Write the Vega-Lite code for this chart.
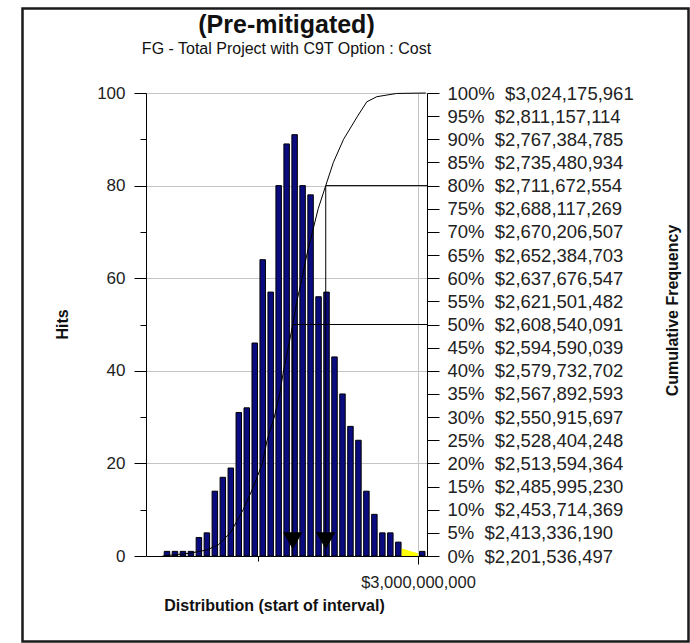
{
  "$schema": "https://vega.github.io/schema/vega-lite/v6.json",
  "width": 281,
  "height": 463,
  "autosize": "none",
  "padding": {"left": 146, "top": 93, "right": 263, "bottom": 87},
  "background": "white",
  "title": {
    "text": "(Pre-mitigated)",
    "subtitle": "FG - Total Project with C9T Option : Cost",
    "anchor": "middle",
    "frame": "group",
    "font": "Liberation Sans",
    "fontSize": 25,
    "fontWeight": "bold",
    "color": "#111111",
    "subtitleFont": "Liberation Sans",
    "subtitleFontSize": 16,
    "subtitleColor": "#111111",
    "subtitlePadding": 3,
    "offset": -49.5
  },
  "config": {
    "view": {"stroke": null},
    "font": "Liberation Sans",
    "axis": {
      "domainColor": "#000000",
      "domainWidth": 1,
      "tickColor": "#000000",
      "tickWidth": 1,
      "labelColor": "#222222",
      "titleColor": "#111111",
      "gridColor": "#c4c4c4",
      "gridWidth": 1,
      "labelFont": "Liberation Sans",
      "titleFont": "Liberation Sans"
    }
  },
  "datasets": {
    "bins": [
      {"start": 2201536497, "end": 2226464966, "hits": 1},
      {"start": 2226464966, "end": 2251393434, "hits": 1},
      {"start": 2251393434, "end": 2276321903, "hits": 1},
      {"start": 2276321903, "end": 2301250371, "hits": 1},
      {"start": 2301250371, "end": 2326178840, "hits": 4},
      {"start": 2326178840, "end": 2351107308, "hits": 5},
      {"start": 2351107308, "end": 2376035777, "hits": 14},
      {"start": 2376035777, "end": 2400964246, "hits": 17},
      {"start": 2400964246, "end": 2425892714, "hits": 19},
      {"start": 2425892714, "end": 2450821183, "hits": 31},
      {"start": 2450821183, "end": 2475749651, "hits": 32},
      {"start": 2475749651, "end": 2500678120, "hits": 46},
      {"start": 2500678120, "end": 2525606588, "hits": 64},
      {"start": 2525606588, "end": 2550535057, "hits": 57},
      {"start": 2550535057, "end": 2575463525, "hits": 80},
      {"start": 2575463525, "end": 2600391994, "hits": 89},
      {"start": 2600391994, "end": 2625320462, "hits": 91},
      {"start": 2625320462, "end": 2650248931, "hits": 80},
      {"start": 2650248931, "end": 2675177400, "hits": 78},
      {"start": 2675177400, "end": 2700105868, "hits": 56},
      {"start": 2700105868, "end": 2725034337, "hits": 57},
      {"start": 2725034337, "end": 2749962805, "hits": 43},
      {"start": 2749962805, "end": 2774891274, "hits": 35},
      {"start": 2774891274, "end": 2799819742, "hits": 28},
      {"start": 2799819742, "end": 2824748211, "hits": 25},
      {"start": 2824748211, "end": 2849676679, "hits": 14},
      {"start": 2849676679, "end": 2874605148, "hits": 9},
      {"start": 2874605148, "end": 2899533617, "hits": 5},
      {"start": 2899533617, "end": 2924462085, "hits": 5},
      {"start": 2924462085, "end": 2949390554, "hits": 3},
      {"start": 2999247491, "end": 3024175961, "hits": 1}
    ],
    "tail": [
      {"value": 2949390554, "hits": 1.6},
      {"value": 2999247491, "hits": 0.6}
    ],
    "cum": [
      {"value": 2201536497, "pct": 0},
      {"value": 2287000000, "pct": 0.6},
      {"value": 2340000000, "pct": 1.3},
      {"value": 2376000000, "pct": 2.4},
      {"value": 2413336190, "pct": 5},
      {"value": 2453714369, "pct": 10},
      {"value": 2485995230, "pct": 15},
      {"value": 2513594364, "pct": 20},
      {"value": 2528404248, "pct": 25},
      {"value": 2550915697, "pct": 30},
      {"value": 2567892593, "pct": 35},
      {"value": 2579732702, "pct": 40},
      {"value": 2594590039, "pct": 45},
      {"value": 2608540091, "pct": 50},
      {"value": 2621501482, "pct": 55},
      {"value": 2637676547, "pct": 60},
      {"value": 2652384703, "pct": 65},
      {"value": 2670206507, "pct": 70},
      {"value": 2688117269, "pct": 75},
      {"value": 2711672554, "pct": 80},
      {"value": 2735480934, "pct": 85},
      {"value": 2767384785, "pct": 90},
      {"value": 2811157114, "pct": 95},
      {"value": 2840000000, "pct": 98.1},
      {"value": 2871000000, "pct": 99.2},
      {"value": 2933000000, "pct": 99.9},
      {"value": 3024175961, "pct": 100}
    ],
    "marked": [
      {"value": 2608540091, "pct": 50},
      {"value": 2711672554, "pct": 80}
    ]
  },
  "layer": [
    {
      "data": {"name": "bins"},
      "mark": {"type": "bar", "color": "#0b0b80", "stroke": "#000000", "strokeWidth": 1, "binSpacing": 2.5},
      "encoding": {
        "x": {
          "field": "start",
          "type": "quantitative",
          "bin": "binned",
          "scale": {"domain": [2150000000, 3028125000], "nice": false, "zero": false},
          "axis": {
            "values": [2500000000, 3000000000],
            "labelExpr": "datum.value == 3000000000 ? '$3,000,000,000' : ''",
            "tickSize": {"condition": {"test": "datum.value == 3000000000", "value": 8}, "value": 5},
            "grid": true,
            "gridOpacity": {"condition": {"test": "datum.value == 3000000000", "value": 1}, "value": 0},
            "labelFontSize": 16.5,
            "labelPadding": 10,
            "labelFlush": false,
            "labelOverlap": false,
            "title": "Distribution (start of interval)",
            "titleFontSize": 16,
            "titleFontWeight": "bold",
            "titleX": 128,
            "titleY": 49,
            "titleAlign": "center",
            "titleBaseline": "middle",
            "titleAngle": 0
          }
        },
        "x2": {"field": "end"},
        "y": {
          "field": "hits",
          "type": "quantitative",
          "scale": {"domain": [0, 100], "nice": false},
          "axis": {
            "orient": "left",
            "values": [0, 10, 20, 30, 40, 50, 60, 70, 80, 90, 100],
            "labelExpr": "datum.value % 20 == 0 ? datum.label : ''",
            "tickSize": {"condition": {"test": "datum.value % 20 == 0", "value": 12}, "value": 6},
            "grid": true,
            "gridOpacity": {"condition": {"test": "datum.value % 20 == 0 && datum.value > 0", "value": 1}, "value": 0},
            "labelFontSize": 17,
            "labelPadding": 9,
            "title": "Hits",
            "titleFontSize": 16,
            "titleFontWeight": "bold",
            "titleAngle": 270,
            "titleX": -84,
            "titleY": 231,
            "titleAlign": "center",
            "titleBaseline": "middle"
          }
        }
      }
    },
    {
      "data": {"name": "tail"},
      "mark": {"type": "area", "color": "#ffff00", "interpolate": "linear"},
      "encoding": {
        "x": {"field": "value", "type": "quantitative"},
        "y": {"field": "hits", "type": "quantitative", "scale": {"domain": [0, 100], "nice": false}, "axis": null}
      }
    },
    {
      "data": {"name": "marked"},
      "mark": {"type": "rule", "color": "#000000", "strokeWidth": 1},
      "encoding": {
        "x": {"field": "value", "type": "quantitative"},
        "x2": {"datum": 3028125000},
        "y": {"field": "pct", "type": "quantitative", "scale": {"domain": [0, 100], "nice": false}, "axis": null}
      }
    },
    {
      "data": {"name": "marked"},
      "mark": {"type": "rule", "color": "#000000", "strokeWidth": 1},
      "encoding": {
        "x": {"field": "value", "type": "quantitative"},
        "y": {"field": "pct", "type": "quantitative", "scale": {"domain": [0, 100], "nice": false}, "axis": null},
        "y2": {"datum": 0}
      }
    },
    {
      "data": {"name": "cum"},
      "mark": {"type": "line", "color": "#000000", "strokeWidth": 1, "interpolate": "linear"},
      "encoding": {
        "x": {"field": "value", "type": "quantitative"},
        "y": {
          "field": "pct",
          "type": "quantitative",
          "scale": {"domain": [0, 100], "nice": false},
          "axis": {
            "orient": "right",
            "values": [0, 5, 10, 15, 20, 25, 30, 35, 40, 45, 50, 55, 60, 65, 70, 75, 80, 85, 90, 95, 100],
            "labelExpr": "['0%\u00a0 $2,201,536,497','5%\u00a0 $2,413,336,190','10%\u00a0 $2,453,714,369','15%\u00a0 $2,485,995,230','20%\u00a0 $2,513,594,364','25%\u00a0 $2,528,404,248','30%\u00a0 $2,550,915,697','35%\u00a0 $2,567,892,593','40%\u00a0 $2,579,732,702','45%\u00a0 $2,594,590,039','50%\u00a0 $2,608,540,091','55%\u00a0 $2,621,501,482','60%\u00a0 $2,637,676,547','65%\u00a0 $2,652,384,703','70%\u00a0 $2,670,206,507','75%\u00a0 $2,688,117,269','80%\u00a0 $2,711,672,554','85%\u00a0 $2,735,480,934','90%\u00a0 $2,767,384,785','95%\u00a0 $2,811,157,114','100%\u00a0 $3,024,175,961'][round(datum.value / 5)]",
            "tickSize": 12,
            "grid": false,
            "labelFontSize": 18.5,
            "labelPadding": 8,
            "labelLimit": 0,
            "labelOverlap": false,
            "labelFlush": false,
            "title": "Cumulative Frequency",
            "titleFontSize": 16,
            "titleFontWeight": "bold",
            "titleAngle": 270,
            "titleX": 245,
            "titleY": 217,
            "titleAlign": "center",
            "titleBaseline": "middle"
          }
        }
      }
    },
    {
      "data": {"name": "marked"},
      "mark": {"type": "point", "shape": "triangle-down", "filled": true, "color": "#000000", "size": 380, "opacity": 1},
      "encoding": {
        "x": {"field": "value", "type": "quantitative"},
        "y": {"datum": 3.3, "type": "quantitative", "scale": {"domain": [0, 100], "nice": false}, "axis": null}
      }
    },
    {
      "data": {"values": [{}]},
      "mark": {"type": "rect", "fill": "transparent", "stroke": "#1a1a1a", "strokeWidth": 2.5, "clip": false},
      "encoding": {
        "x": {"datum": 1764062500, "type": "quantitative"},
        "x2": {"datum": 3845312500},
        "y": {"datum": 118.25, "type": "quantitative", "scale": {"domain": [0, 100], "nice": false}, "axis": null},
        "y2": {"datum": -18.47}
      }
    }
  ],
  "resolve": {"scale": {"y": "independent"}}
}
